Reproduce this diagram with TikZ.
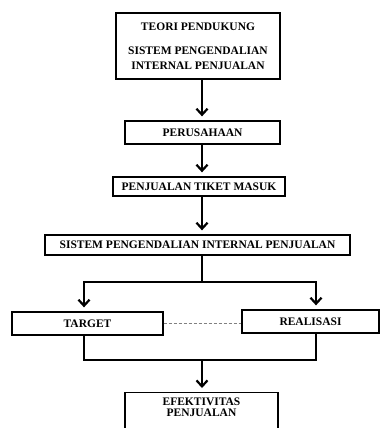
\documentclass[tikz,border=0pt]{standalone}
\usepackage{fontspec}
\setmainfont{Liberation Serif}
\usetikzlibrary{arrows.meta}

\begin{document}
\begin{tikzpicture}[x=1pt,y=-1pt]
		    \tikzstyle{kotak}=[draw,line width=1.3pt,inner sep=0pt,align=center,font=\fontsize{11.5}{15}\selectfont\bfseries]
		    \tikzstyle{garis}=[line width=2.2pt]
		    \tikzstyle{panah}=[garis,-{Straight Barb[length=6pt,width=11pt]},shorten >=4pt]
		    \tikzstyle{putus}=[draw=gray,line width=0.6pt,dash pattern=on 3pt off 2pt]
		    \useasboundingbox (0,0) rectangle (380,428);
		    % kotak-kotak
		    \node [kotak,minimum width=164,minimum height=66] (teori) at (198,46) {TEORI PENDUKUNG\\[9pt]SISTEM PENGENDALIAN\\INTERNAL PENJUALAN};
		    \node [kotak,minimum width=155,minimum height=23] (usaha) at (202.5,132.5) {PERUSAHAAN};
		    \node [kotak,minimum width=172,minimum height=19] (tiket) at (199,186.5) {PENJUALAN TIKET MASUK};
		    \node [kotak,minimum width=305,minimum height=20] (spi) at (197.5,245) {SISTEM PENGENDALIAN INTERNAL PENJUALAN};
		    \node [kotak,minimum width=151,minimum height=23] (target) at (87.5,323.5) {TARGET};
		    \node [kotak,minimum width=137,minimum height=23] (realisasi) at (310.5,321.5) {REALISASI};
		    \node [kotak,anchor=north,minimum width=153,inner ysep=5pt,text depth=30pt,font=\fontsize{11.5}{11.5}\selectfont\bfseries] (efek) at (201.5,392) {EFEKTIVITAS\\PENJUALAN};
		    % titik bantu
		    \coordinate (sumbu) at (202,0);
		    \coordinate (kiri) at (84,0);
		    \coordinate (kanan) at (316,0);
		    \coordinate (cabang) at (202,282);
		    \coordinate (bawah) at (202,360);
		    % panah
		    \draw [panah] (teori.south -| sumbu) -- (usaha.north -| sumbu);
		    \draw [panah] (usaha.south -| sumbu) -- (tiket.north -| sumbu);
		    \draw [panah] (tiket.south -| sumbu) -- (spi.north -| sumbu);
		    \draw [garis] (spi.south -| sumbu) -- (cabang);
		    \draw [panah] (cabang) -| (target.north -| kiri);
		    \draw [panah] (cabang) -| (realisasi.north -| kanan);
		    \draw [putus] (target.east) -- (target.east -| realisasi.west);
		    \draw [garis] (target.south -| kiri) |- (bawah);
		    \draw [garis] (realisasi.south -| kanan) |- (bawah);
		    \draw [panah] (bawah) -- (efek.north -| sumbu);
\end{tikzpicture}
\end{document}
